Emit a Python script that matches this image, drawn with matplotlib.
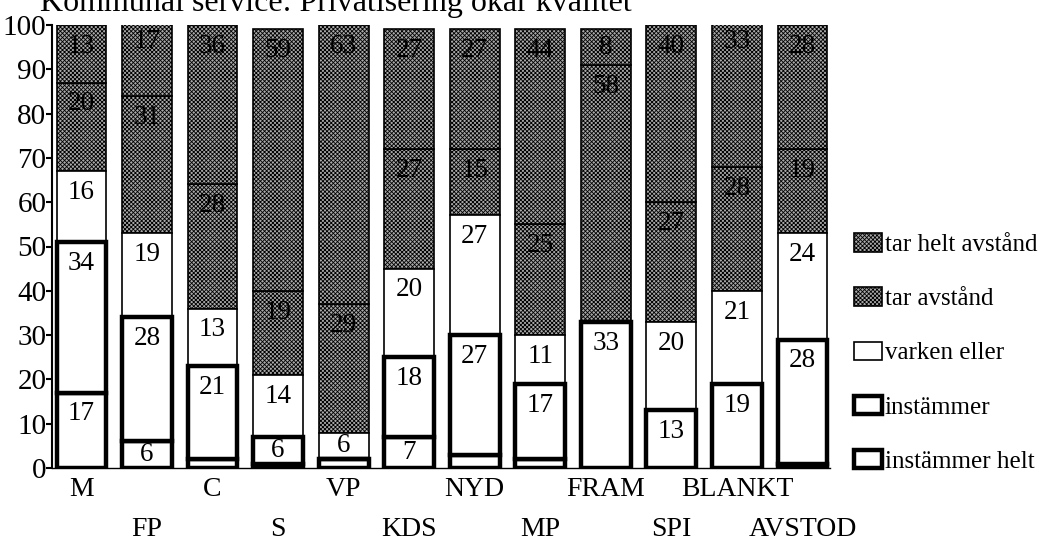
import numpy as np
import matplotlib
matplotlib.use("Agg")
import matplotlib.pyplot as plt

plt.rcParams["font.family"] = ["Liberation Serif", "DejaVu Serif"]
plt.rcParams["hatch.linewidth"] = 0.6

# data (percent)
parties = ["M", "FP", "C", "S", "VP", "KDS", "NYD", "MP", "FRAM", "SPI", "BLANKT", "AVSTOD"]
instammer_helt = [17, 6, 2, 1, 2, 7, 3, 2, 0, 0, 0, 1]
instammer = [34, 28, 21, 6, 0, 18, 27, 17, 33, 13, 19, 28]
varken_eller = [16, 19, 13, 14, 6, 20, 27, 11, 0, 20, 21, 24]
tar_avstand = [20, 31, 28, 19, 29, 27, 15, 25, 58, 27, 28, 19]
tar_helt_avstand = [13, 17, 36, 59, 63, 27, 27, 44, 8, 40, 33, 28]

grey = dict(facecolor="#a9a9a9", edgecolor="black", linewidth=1.2, hatch="xxxxxxxx", zorder=2)
series = [
    ("instämmer helt", instammer_helt, dict(facecolor="white", edgecolor="black", linewidth=3.2, zorder=4)),
    ("instämmer", instammer, dict(facecolor="white", edgecolor="black", linewidth=3.2, zorder=4)),
    ("varken eller", varken_eller, dict(facecolor="white", edgecolor="black", linewidth=1.2, zorder=3)),
    ("tar avstånd", tar_avstand, grey),
    ("tar helt avstånd", tar_helt_avstand, grey),
]

fig = plt.figure(figsize=(10.53, 5.44), dpi=100)
ax = fig.add_axes([52 / 1053, 1 - 468 / 544, 778 / 1053, 443 / 544])

x = np.arange(len(parties))
bottom = np.zeros(len(parties))
handles = {}
for name, vals, style in series:
    vals = np.array(vals, dtype=float)
    bars = ax.bar(x, vals, width=0.76, bottom=bottom, label=name, **style)
    handles[name] = bars
    for xi, b, v in zip(x, bottom, vals):
        if v >= 5:
            ax.text(xi, b + v - min(4.8, v / 2), f"{int(v)}", ha="center", va="center",
                    fontsize=19.5, zorder=6)
    bottom = bottom + vals

ax.set_xlim(-0.45, 11.42)
ax.set_ylim(0, 100)
ax.set_yticks(np.arange(0, 101, 10))
ax.tick_params(axis="y", direction="out", length=4, width=1.5, pad=0, labelsize=21)
ax.set_xticks([])
for s in ["top", "right"]:
    ax.spines[s].set_visible(False)
ax.spines["left"].set_linewidth(1.5)
ax.spines["bottom"].set_linewidth(1.0)

# party names in two staggered rows
for i, p in enumerate(parties):
    off = -21 if i % 2 == 0 else -61
    ax.annotate(p, xy=(i, 0), xycoords=("data", "axes fraction"),
                xytext=(0, off * 0.72), textcoords="offset points",
                ha="center", va="center", fontsize=20)

order = ["tar helt avstånd", "tar avstånd", "varken eller", "instämmer", "instämmer helt"]
ax.legend([handles[n] for n in order], order, loc="center left",
          bbox_to_anchor=(841 / 1053, 1 - 353 / 544), bbox_transform=fig.transFigure,
          frameon=False, fontsize=18, handlelength=1.15, handleheight=0.75,
          handletextpad=0.1, labelspacing=1.25, borderpad=0)

# title, cut off at the top edge as in the scan
fig.text(40 / 1053, 1 - 11 / 544, "Kommunal service: Privatisering ökar kvalitet",
         ha="left", va="baseline", fontsize=23)

fig.savefig("out.png", dpi=100)
